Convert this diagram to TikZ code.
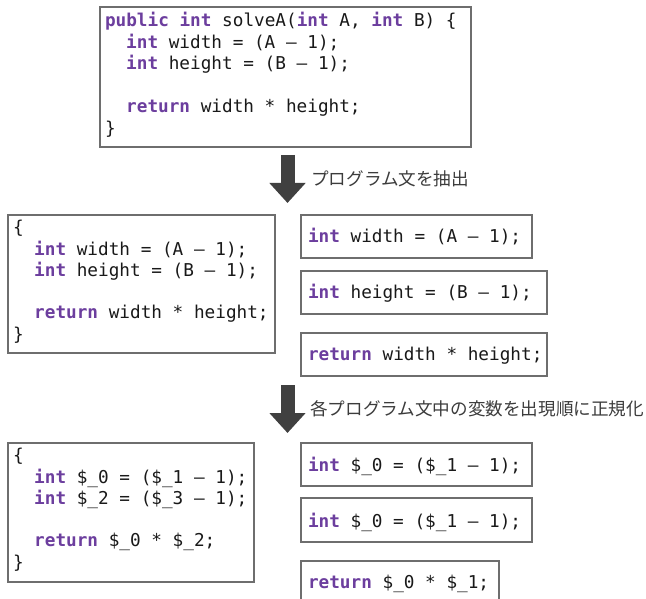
\documentclass[tikz,border=0pt]{standalone}
\usepackage{fontspec}
\usetikzlibrary{arrows.meta}
\setmonofont{DejaVu Sans Mono}
\newfontfamily\jpfont{Noto Sans CJK JP}
\definecolor{kwpurple}{RGB}{108,62,158}
\definecolor{codeblack}{RGB}{25,25,25}
\definecolor{boxgray}{RGB}{110,110,110}
\definecolor{arrowgray}{RGB}{64,64,64}
\definecolor{labelgray}{RGB}{60,60,60}
\newcommand\kw[1]{{\bfseries\color{kwpurple}#1}}
\newcommand\codefont{\fontsize{17.7}{21}\selectfont\ttfamily}
\tikzset{
  codebox/.style={draw=boxgray, line width=1.2pt, inner sep=0pt, outer sep=0pt, anchor=north west},
  codeline/.style={anchor=base west, inner sep=0pt, outer sep=0pt, font=\codefont, text=codeblack},
  blockarrow/.style={draw=arrowgray, line width=14pt, -{Triangle[width=35pt,length=20pt]}},
  steplabel/.style={anchor=west, inner sep=0pt, font=\jpfont\fontsize{17.6}{20}\selectfont, text=labelgray}
}
\begin{document}
\begin{tikzpicture}[x=1pt,y=-1pt]
\useasboundingbox (0,0) rectangle (646,599);
\fill[white] (0,0) rectangle (646,599);

% top box
\node[codebox, minimum width=371pt, minimum height=140pt] (b1) at (100,7) {};
\node[codeline] (l1a) at (105,27) {\kw{public} \kw{int} solveA(\kw{int} A, \kw{int} B) \{};
\node[codeline] (l1b) at (126.2,48.5) {\kw{int} width = (A – 1);};
\node[codeline] (l1c) at (126.2,70) {\kw{int} height = (B – 1);};
\node[codeline] (l1d) at (126.2,113) {\kw{return} width * height;};
\node[codeline] (l1e) at (105,134.5) {\}};

% arrow 1
\coordinate (a1s) at (287.5,155);
\coordinate (a1e) at (287.5,203);
\draw[blockarrow] (a1s) -- (a1e);
\node[steplabel] (lab1) at (311,179) {プログラム文を抽出};

% middle left box
\node[codebox, minimum width=267pt, minimum height=138pt] (b2) at (8,215) {};
\node[codeline] (l2a) at (13,233.5) {\{};
\node[codeline] (l2b) at (34.2,255) {\kw{int} width = (A – 1);};
\node[codeline] (l2c) at (34.2,276.5) {\kw{int} height = (B – 1);};
\node[codeline] (l2d) at (34.2,318.5) {\kw{return} width * height;};
\node[codeline] (l2e) at (13,340) {\}};

% middle right boxes
\node[codebox, minimum width=231pt, minimum height=43pt] (b3) at (301,215) {};
\node[codeline] (l3) at (308,242.5) {\kw{int} width = (A – 1);};
\node[codebox, minimum width=246pt, minimum height=43pt] (b4) at (301,271) {};
\node[codeline] (l4) at (308,298.5) {\kw{int} height = (B – 1);};
\node[codebox, minimum width=246pt, minimum height=43pt] (b5) at (301,333) {};
\node[codeline] (l5) at (308,360) {\kw{return} width * height;};

% arrow 2
\coordinate (a2s) at (287.5,385);
\coordinate (a2e) at (287.5,433);
\draw[blockarrow] (a2s) -- (a2e);
\node[steplabel] (lab2) at (310,409) {各プログラム文中の変数を出現順に正規化};

% bottom left box
\node[codebox, minimum width=246pt, minimum height=139pt] (b6) at (8,443) {};
\node[codeline] (l6a) at (13,461.5) {\{};
\node[codeline] (l6b) at (34.2,483) {\kw{int} \$\_0 = (\$\_1 – 1);};
\node[codeline] (l6c) at (34.2,504.5) {\kw{int} \$\_2 = (\$\_3 – 1);};
\node[codeline] (l6d) at (34.2,546.5) {\kw{return} \$\_0 * \$\_2;};
\node[codeline] (l6e) at (13,568) {\}};

% bottom right boxes
\node[codebox, minimum width=231pt, minimum height=43pt] (b7) at (301,443) {};
\node[codeline] (l7) at (308,471.5) {\kw{int} \$\_0 = (\$\_1 – 1);};
\node[codebox, minimum width=231pt, minimum height=44pt] (b8) at (301,498) {};
\node[codeline] (l8) at (308,527) {\kw{int} \$\_0 = (\$\_1 – 1);};
\node[codebox, minimum width=198pt, minimum height=45pt] (b9) at (301,561) {};
\node[codeline] (l9) at (308,588.5) {\kw{return} \$\_0 * \$\_1;};
\end{tikzpicture}
\end{document}
